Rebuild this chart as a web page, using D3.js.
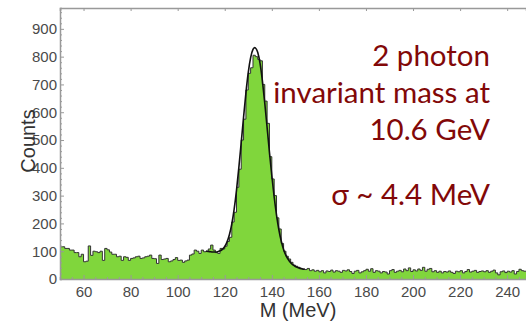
<!DOCTYPE html>
<html>
<head>
<meta charset="utf-8">
<script src="https://cdn.jsdelivr.net/npm/d3@7"></script>
<style>
  body { margin: 0; background: #fff; }
  svg { display: block; }
</style>
</head>
<body>
<script>
// histogram, 1 MeV bins starting at 50 MeV
var binStart = 50;
var counts = [
  116, 116, 110, 110, 104, 104, 95, 95, 80, 89,
  62, 64, 119, 85, 100, 98, 95, 100, 67, 110,
  105, 97, 89, 89, 80, 82, 67, 80, 78, 67,
  74, 76, 80, 82, 74, 76, 80, 82, 86, 74,
  73, 56, 86, 70, 72, 74, 62, 65, 70, 77,
  67, 68, 60, 65, 68, 86, 90, 104, 100, 92,
  104, 98, 100, 108, 122, 104, 95, 92, 110, 108,
  118, 135, 150, 205, 240, 330, 395, 500, 575, 680,
  740, 760, 805, 800, 790, 785, 700, 640, 560, 440,
  360, 300, 220, 180, 128, 100, 82, 72, 60, 50,
  46, 42, 38, 36, 34, 38, 30, 33, 28, 31,
  26, 30, 22, 29, 27, 32, 25, 30, 28, 24,
  31, 29, 33, 27, 20, 28, 31, 22, 26, 30,
  35, 28, 37, 24, 30, 28, 22, 27, 25, 18,
  30, 34, 24, 28, 31, 26, 36, 30, 40, 27,
  33, 29, 36, 31, 42, 28, 35, 38, 26, 30,
  24, 28, 22, 27, 25, 29, 24, 20, 28, 26,
  30, 22, 27, 34, 25, 28, 31, 24, 27, 29,
  26, 30, 24, 28, 32, 22, 15, 26, 29, 23,
  28, 25, 30, 18, 27, 35, 30, 28
];

// fit curve, read at 1 MeV steps
var fitMass = d3.range(112, 155);
var fitValues = [
  100, 99, 98, 97, 97, 98, 101, 106, 116, 132,
  158, 196, 248, 318, 400, 490, 584, 672, 747, 800,
  830, 835, 820, 780, 715, 635, 545, 455, 370, 293,
  228, 175, 135, 105, 84, 69, 58, 50, 45, 41,
  38, 36, 35
];

var xTicks = [60, 80, 100, 120, 140, 160, 180, 200, 220, 240];
var yTicks = [0, 100, 200, 300, 400, 500, 600, 700, 800, 900];
var notes = ["2 photon", "invariant mass at", "10.6 GeV", "\u03c3 ~ 4.4 MeV"];

var w = 526, h = 321;
var svg = d3.select("body").append("svg").attr("width", w).attr("height", h);

var x = d3.scaleLinear().domain([50, 248]).range([60, 526]);
var y = d3.scaleLinear().domain([0, 975]).range([279, 8]);

var hist = counts.map(function(v, i) { return {m: binStart + i, v: v}; });
hist.push({m: binStart + counts.length, v: counts[counts.length - 1]});

var area = d3.area()
  .x(function(d) { return x(d.m); })
  .y0(y(0))
  .y1(function(d) { return y(d.v); })
  .curve(d3.curveStepAfter);

var line = d3.line()
  .x(function(d) { return x(d.m); })
  .y(function(d) { return y(d.v); })
  .curve(d3.curveStepAfter);

svg.append("path").datum(hist)
  .attr("d", area)
  .attr("fill", "#80d63c");

svg.append("path").datum(hist)
  .attr("d", line)
  .attr("fill", "none")
  .attr("stroke", "#333")
  .attr("stroke-width", 1);

// fit
var fit = fitMass.map(function(m, i) { return {m: m, v: fitValues[i]}; });
svg.append("path").datum(fit)
  .attr("d", d3.line()
    .x(function(d) { return x(d.m); })
    .y(function(d) { return y(d.v); })
    .curve(d3.curveBasis))
  .attr("fill", "none")
  .attr("stroke", "#111")
  .attr("stroke-width", 1.6);

// axes
var axisColor = "#999";
var labelColor = "#4a4a4a";

var bottom = svg.append("g").attr("transform", "translate(0," + y(0) + ")")
  .call(d3.axisTop(x).tickValues(d3.range(50, 250, 5)).tickSize(2).tickFormat(""));
bottom.selectAll(".tick")
  .filter(function(d) { return d % 20 === 0; })
  .select("line").attr("y2", -4);

var bottomLabels = svg.append("g").attr("transform", "translate(0," + y(0) + ")")
  .call(d3.axisBottom(x).tickValues(xTicks).tickSize(0).tickPadding(7));
bottomLabels.select(".domain").remove();

var top = svg.append("g").attr("transform", "translate(0," + y(975) + ")")
  .call(d3.axisBottom(x).tickValues(xTicks).tickSize(3).tickFormat(""));

var left = svg.append("g").attr("transform", "translate(" + x(50) + ",0)")
  .call(d3.axisRight(y).tickValues(d3.range(0, 980, 20)).tickSize(2).tickFormat(""));
left.selectAll(".tick")
  .filter(function(d) { return d % 100 === 0; })
  .select("line").attr("x2", 4);

var leftLabels = svg.append("g").attr("transform", "translate(" + x(50) + ",0)")
  .call(d3.axisLeft(y).tickValues(yTicks).tickSize(0).tickPadding(3));
leftLabels.select(".domain").remove();

svg.selectAll(".domain").attr("stroke", axisColor).attr("stroke-width", 1.5);
svg.selectAll(".tick line").attr("stroke", axisColor);
svg.selectAll(".tick text")
  .attr("fill", labelColor)
  .style("font-family", "'Liberation Sans', Arial, sans-serif")
  .style("font-size", "15px");

// axis titles
svg.append("text")
  .attr("transform", "translate(35,141) rotate(-90)")
  .attr("text-anchor", "middle")
  .attr("fill", "#333")
  .style("font-family", "'Liberation Sans', Arial, sans-serif")
  .style("font-size", "20px")
  .text("Counts");

svg.append("text")
  .attr("x", 298).attr("y", 317)
  .attr("text-anchor", "middle")
  .attr("fill", "#333")
  .style("font-family", "'Liberation Sans', Arial, sans-serif")
  .style("font-size", "20px")
  .text("M (MeV)");

// annotation: three lines, a gap, then the resolution
svg.append("g").selectAll("text")
  .data(notes)
  .enter()
  .append("text")
  .attr("x", 490)
  .attr("y", function(d, i) { return i < 3 ? 66 + i * 37 : 205; })
  .attr("text-anchor", "end")
  .attr("fill", "#820808")
  .style("font-family", "Lato, sans-serif")
  .style("font-size", "29.5px")
  .text(function(d) { return d; });
</script>
</body>
</html>
